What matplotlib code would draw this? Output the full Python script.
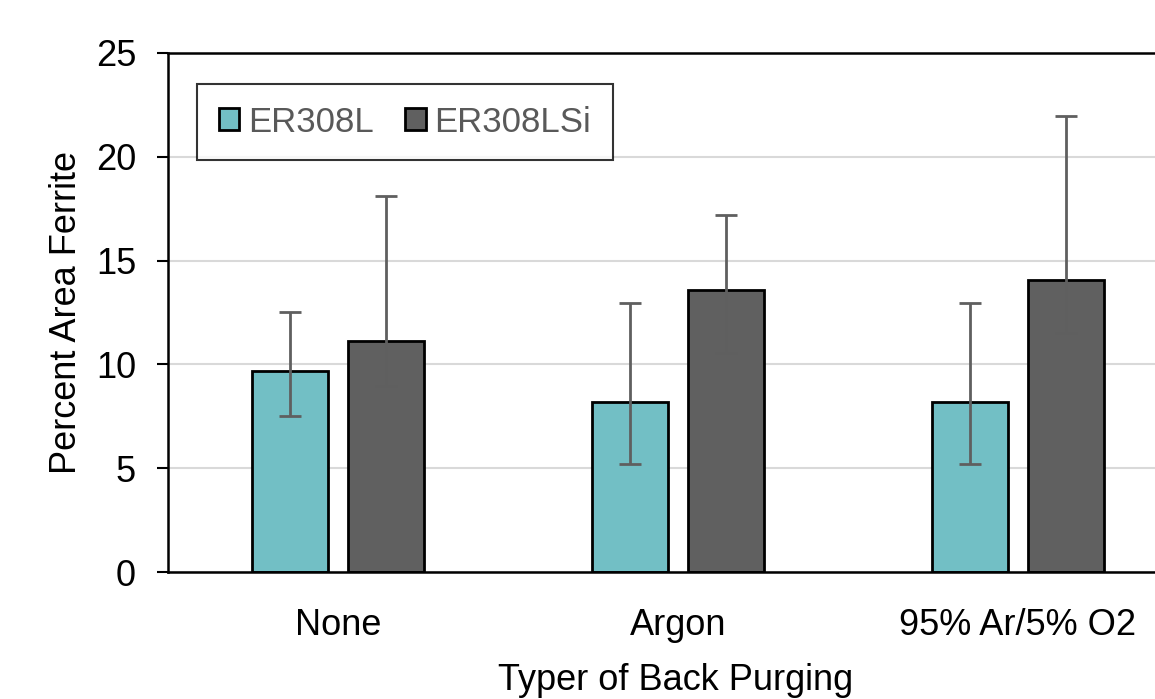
import matplotlib
matplotlib.use('Agg')
import matplotlib.pyplot as plt
import numpy as np

categories = ['None', 'Argon', '95% Ar/5% O2']
series = ['ER308L', 'ER308LSi']

er308l = [9.68, 8.19, 8.19]
er308l_hi = [12.52, 12.96, 12.96]
er308l_lo = [7.51, 5.20, 5.20]

er308lsi = [11.13, 13.58, 14.07]
er308lsi_hi = [18.11, 17.20, 21.97]
er308lsi_lo = [8.96, 10.55, 11.51]

colors = ['#72bfc5', '#606060']

plt.rcParams['font.family'] = ['Liberation Sans', 'DejaVu Sans']

fig = plt.figure(figsize=(11.55, 6.99), dpi=100)
ax = fig.add_axes([168 / 1155, 1 - 572 / 699, 1020 / 1155, 519 / 699])

ind = np.arange(len(categories))
width = 0.2235
offset = 0.1412

for k, (vals, hi, lo) in enumerate([(er308l, er308l_hi, er308l_lo),
                                    (er308lsi, er308lsi_hi, er308lsi_lo)]):
    vals = np.array(vals)
    yerr = [vals - np.array(lo), np.array(hi) - vals]
    x = ind + (-offset if k == 0 else offset)
    ax.bar(x, vals, width, color=colors[k], edgecolor='black', linewidth=2,
           label=series[k], zorder=2)
    ax.errorbar(x, vals, yerr=yerr, fmt='none', ecolor='#5f5f5f', elinewidth=2,
                capsize=8, capthick=2, zorder=3)

ax.set_xlim(-0.5, 2.5)
ax.set_ylim(0, 25)
ax.set_yticks([0, 5, 10, 15, 20, 25])
ax.set_xticks(ind)
ax.set_xticklabels(categories)
ax.tick_params(axis='x', length=0, labelsize=26, pad=26)
ax.tick_params(axis='y', length=8, width=1.5, labelsize=26, pad=15, direction='out')

ax.yaxis.grid(True, color='#d9d9d9', linewidth=1.5, zorder=0)
ax.set_axisbelow(True)
for side in ['left', 'bottom', 'top']:
    ax.spines[side].set_linewidth(1.8)
    ax.spines[side].set_color('black')
ax.spines['right'].set_visible(False)

ax.set_ylabel('Percent Area Ferrite', fontsize=26)
ax.yaxis.set_label_coords((84 - 168) / 1020, 0.5)
ax.set_xlabel('Typer of Back Purging', fontsize=26)
ax.xaxis.set_label_coords((676 - 168) / 1020, -0.176)

leg = ax.legend(loc='upper left', bbox_to_anchor=(197 / 1155, 1 - 84 / 699),
                bbox_transform=fig.transFigure, borderaxespad=0, ncol=2,
                fontsize=25, frameon=True, fancybox=False, handlelength=0.6,
                handleheight=0.6, handletextpad=0.25, columnspacing=0.9,
                borderpad=0.62)
leg.get_frame().set_edgecolor('black')
leg.get_frame().set_linewidth(1.5)
for t in leg.get_texts():
    t.set_color('#595959')

fig.savefig('out.png', dpi=100)
